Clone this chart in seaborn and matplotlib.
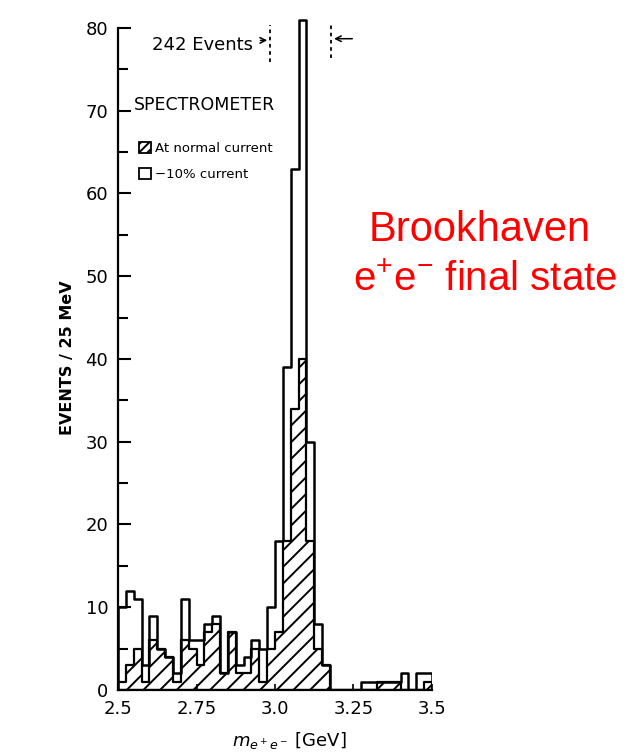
import numpy as np
import pandas as pd
import matplotlib.pyplot as plt
import seaborn as sns
from matplotlib.patches import Patch

# 25 MeV bins between 2.5 and 3.5 GeV
bin_width = 0.025
bin_edges = [round(2.5 + i * bin_width, 4) for i in range(41)]
bin_centers = [round(e + bin_width / 2, 4) for e in bin_edges[:-1]]

# events per bin, -10% spectrometer current (open histogram)
low_current = [10, 12, 11, 3, 9, 5, 4, 2, 11, 6,
               6, 8, 9, 2, 7, 3, 4, 6, 5, 10,
               18, 39, 63, 81, 30, 8, 3, 0, 0, 0,
               0, 1, 1, 1, 1, 1, 2, 0, 2, 2]
# events per bin, normal current (hatched histogram)
normal_current = [1, 3, 5, 1, 6, 5, 4, 1, 6, 5,
                  3, 7, 8, 2, 7, 2, 2, 5, 1, 5,
                  7, 18, 34, 40, 18, 5, 3, 0, 0, 0,
                  0, 0, 0, 1, 1, 1, 0, 0, 0, 1]

x_ticks = [2.5, 2.75, 3.0, 3.25, 3.5]
x_ticklabels = ["2.5", "2.75", "3.0", "3.25", "3.5"]
y_ticks = [0, 10, 20, 30, 40, 50, 60, 70, 80]

df = pd.DataFrame({"mass": bin_centers, "low": low_current, "normal": normal_current})

sns.set_style("ticks", {"text.color": "black", "axes.labelcolor": "black",
                        "xtick.color": "black", "ytick.color": "black",
                        "axes.edgecolor": "black"})
plt.rcParams["font.family"] = ["DejaVu Sans"]
plt.rcParams["hatch.linewidth"] = 1.4
plt.rcParams["hatch.color"] = "black"
plt.rcParams["mathtext.fontset"] = "dejavusans"
plt.rcParams["mathtext.rm"] = "Liberation Sans"
plt.rcParams["mathtext.it"] = "Liberation Sans:italic"

fig = plt.figure(figsize=(6.33, 7.55), dpi=100)
ax = fig.add_axes([118 / 633, 65 / 755, 314 / 633, 678.6 / 755])

sns.histplot(data=df, x="mass", weights="normal", bins=bin_edges,
             element="step", fill=True, color="black", facecolor="none",
             edgecolor="black", hatch="//", linewidth=1.6, alpha=1, ax=ax)
sns.histplot(data=df, x="mass", weights="low", bins=bin_edges,
             element="step", fill=True, color="black", facecolor="none",
             edgecolor="black", linewidth=1.8, alpha=1, ax=ax)

ax.set_xlim(2.5, 3.5)
ax.set_ylim(0, 82)
ax.set_xticks(x_ticks)
ax.set_xticklabels(x_ticklabels)
ax.set_yticks(y_ticks)
ax.set_yticks(np.arange(5, 80, 10), minor=True)
ax.tick_params(axis="y", which="major", direction="in", length=9, width=1.5,
               labelsize=13, pad=7)
ax.tick_params(axis="y", which="minor", direction="in", length=7, width=1.5)
ax.tick_params(axis="x", direction="in", length=4, width=1.2, labelsize=13, pad=7)

sns.despine(ax=ax)
ax.spines["left"].set_bounds(0, 80)
ax.spines["left"].set_linewidth(1.6)
ax.spines["bottom"].set_linewidth(1.6)

ax.set_xlabel("")
ax.set_ylabel("")
ax.text(-0.162, 0.49, "EVENTS / 25 MeV", transform=ax.transAxes, rotation=90,
        ha="center", va="center", fontsize=11.5, fontweight="bold")
ax.text(0.545, -0.075, r"$m_{e^+e^-}$ [GeV]", transform=ax.transAxes,
        ha="center", va="center", fontsize=13)

# peak annotation
ax.text(2.77, 77.9, "242 Events", ha="center", va="center", fontsize=13)
ax.vlines(2.984, 75.9, 80.4, colors="black", linestyles=(0, (2, 2)), linewidth=1.3)
ax.vlines(3.179, 76.4, 80.6, colors="black", linestyles=(0, (2, 2)), linewidth=1.3)
ax.annotate("", xy=(2.984, 78.5), xytext=(2.945, 78.5),
            arrowprops=dict(arrowstyle="->", color="black", lw=1.1))
ax.annotate("", xy=(3.179, 78.7), xytext=(3.255, 78.7),
            arrowprops=dict(arrowstyle="->", color="black", lw=1.1))

ax.text(2.55, 70.7, "SPECTROMETER", ha="left", va="center", fontsize=12.5)

handles = [Patch(facecolor="white", edgecolor="black", hatch="////", linewidth=1.3),
           Patch(facecolor="white", edgecolor="black", linewidth=1.3)]
ax.legend(handles, ["At normal current", "\u221210% current"], loc="upper left",
          bbox_to_anchor=(0.05, 0.815), frameon=False, fontsize=9.5,
          handlelength=0.9, handleheight=0.9, handletextpad=0.35,
          labelspacing=1.0, borderaxespad=0)

fig.text(480 / 633, 1 - 230 / 755, "Brookhaven", color="#ff0000",
         fontsize=30, family=["Liberation Sans"], ha="center", va="center")
fig.text(485 / 633, 1 - 280 / 755, r"e$^{+}$e$^{-}$ final state", color="#ff0000",
         fontsize=29, family=["Liberation Sans"], ha="center", va="center",
         math_fontfamily="custom")

fig.savefig("out.png", dpi=100)
